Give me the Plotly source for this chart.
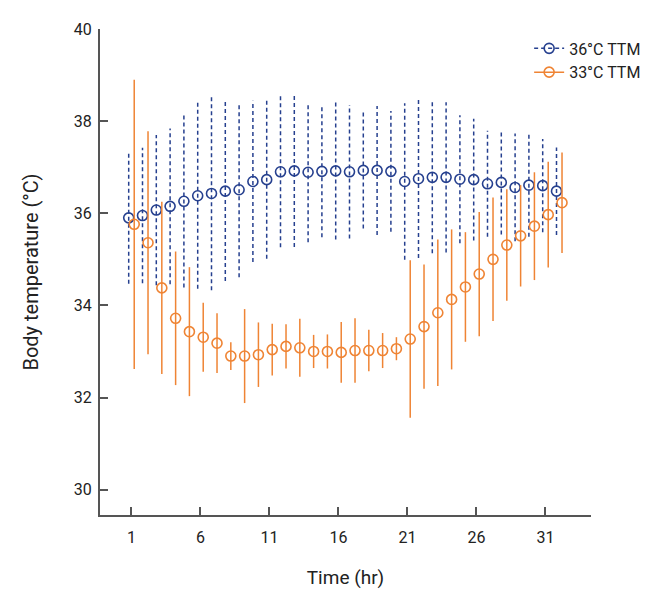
"""Body temperature over time, 36 vs 33 C TTM"""

import plotly.graph_objects as go

# data
hours = list(range(1, 33))

mean_36 = [35.90, 35.95, 36.07, 36.15, 36.26, 36.38, 36.43, 36.48, 36.51, 36.69,
           36.73, 36.90, 36.92, 36.89, 36.91, 36.92, 36.90, 36.93, 36.93, 36.91,
           36.69, 36.75, 36.78, 36.78, 36.74, 36.73, 36.64, 36.67, 36.56, 36.61,
           36.60, 36.48]
sd_36 = [1.43, 1.47, 1.63, 1.69, 1.87, 2.02, 2.10, 1.95, 1.90, 1.75,
         1.72, 1.64, 1.65, 1.52, 1.43, 1.49, 1.45, 1.26, 1.40, 1.31,
         1.70, 1.72, 1.65, 1.63, 1.39, 1.32, 1.15, 1.13, 1.17, 1.12,
         1.01, 0.95]

mean_33 = [35.76, 35.36, 34.38, 33.72, 33.43, 33.31, 33.18, 32.90, 32.90, 32.93,
           33.04, 33.11, 33.08, 33.00, 33.00, 32.98, 33.02, 33.02, 33.02, 33.06,
           33.27, 33.54, 33.84, 34.13, 34.40, 34.68, 35.00, 35.31, 35.51, 35.72,
           35.97, 36.23]
sd_33 = [3.14, 2.42, 1.87, 1.45, 1.40, 0.75, 0.65, 0.30, 1.02, 0.70,
         0.56, 0.48, 0.63, 0.36, 0.37, 0.66, 0.70, 0.45, 0.38, 0.25,
         1.71, 1.35, 1.59, 1.52, 1.19, 1.35, 1.34, 1.21, 1.10, 1.17,
         1.15, 1.09]

x_ticks = [1, 6, 11, 16, 21, 26, 31]
y_ticks = [30, 32, 34, 36, 38, 40]

BLUE = "#26408f"
ORANGE = "#ef8434"
AXIS = "#555555"
FONT = "Roboto, Arial, sans-serif"


def segments(xs, means, sds):
    """vertical mean +/- sd segments, separated by None"""
    sx, sy = [], []
    for x, m, s in zip(xs, means, sds):
        sx += [x, x, None]
        sy += [m - s, m + s, None]
    return sx, sy


def main():
    fig = go.Figure()

    groups = [
        ("36°C TTM", mean_36, sd_36, -0.2, BLUE, "4px,3px"),
        ("33°C TTM", mean_33, sd_33, 0.2, ORANGE, "solid"),
    ]
    for name, means, sds, shift, color, dash in groups:
        xs = [h + shift for h in hours]
        sx, sy = segments(xs, means, sds)
        fig.add_trace(go.Scatter(x=sx, y=sy, mode="lines", showlegend=False,
                                 line=dict(color=color, width=1.5, dash=dash),
                                 hoverinfo="skip"))
        fig.add_trace(go.Scatter(x=xs, y=means, mode="markers", showlegend=False,
                                 marker=dict(symbol="circle-open", size=10,
                                             color=color, line=dict(width=1.6))))
        # legend entry only
        fig.add_trace(go.Scatter(x=[None], y=[None], mode="lines+markers", name=name,
                                 line=dict(color=color, width=1.5, dash=dash),
                                 marker=dict(symbol="circle-open", size=10,
                                             color=color, line=dict(width=1.6))))

    # page body adds 8px, so the figure is 8px smaller than the window
    fig.update_layout(
        width=650, height=589,
        margin=dict(l=92, r=66, t=15, b=82),
        paper_bgcolor="white", plot_bgcolor="white",
        font=dict(family=FONT, size=16, color="#222222"),
        legend=dict(x=0.874, y=0.995, xanchor="left", yanchor="top",
                    font=dict(size=16), bgcolor="rgba(0,0,0,0)",
                    itemwidth=30, tracegroupgap=0),
        xaxis=dict(range=[-1.28, 34.3], tickvals=x_ticks, ticks="inside",
                   ticklen=8, tickwidth=1.5, tickcolor=AXIS,
                   showline=True, linecolor=AXIS, linewidth=2,
                   showgrid=False, zeroline=False, ticklabelstandoff=7,
                   title=dict(text="Time (hr)", font=dict(size=19), standoff=24)),
        yaxis=dict(range=[29.45, 40], tickvals=y_ticks, ticks="inside",
                   ticklen=8, tickwidth=1.5, tickcolor=AXIS,
                   showline=True, linecolor=AXIS, linewidth=2,
                   showgrid=False, zeroline=False, ticklabelstandoff=3,
                   title=dict(text="Body temperature (°C)", font=dict(size=20),
                              standoff=30)),
    )

    fig.write_html("out.html")


if __name__ == "__main__":
    main()
